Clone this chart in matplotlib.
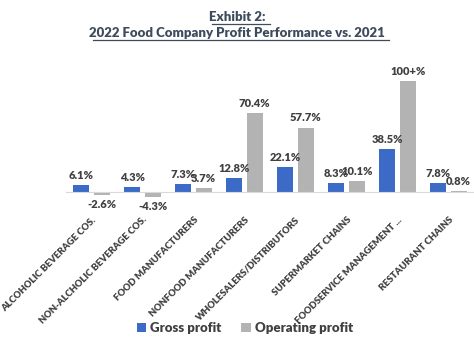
import matplotlib
matplotlib.use("Agg")
import matplotlib.pyplot as plt
import numpy as np

categories = ["ALCOHOLIC BEVERAGE COS.", "NON-ALCHOLIC BEVERAGE COS.", "FOOD MANUFACTURERS",
              "NONFOOD MANUFACTURERS", "WHOLESALERS/DISTRIBUTORS", "SUPERMARKET CHAINS",
              "FOODSERVICE MANAGEMENT ...", "RESTAURANT CHAINS"]
gross = [6.1, 4.3, 7.3, 12.8, 22.1, 8.3, 38.5, 7.8]
operating = [-2.6, -4.3, 3.7, 70.4, 57.7, 10.1, 99.0, 0.8]
gross_labels = ["6.1%", "4.3%", "7.3%", "12.8%", "22.1%", "8.3%", "38.5%", "7.8%"]
op_labels = ["-2.6%", "-4.3%", "3.7%", "70.4%", "57.7%", "10.1%", "100+%", "0.8%"]

FONT = "Lato"
W = "heavy"
TXT = "#404040"
BLUE = "#3C6BC7"
GRAY = "#B3B3B3"
TITLE = "#3E4B5E"

fig = plt.figure(figsize=(4.74, 3.39), dpi=100)
ax = fig.add_axes([66/474, 1 - 200/339, 408/474, 140/339])
x = np.arange(len(categories))
w = 0.31
off = 0.2
b1 = ax.bar(x - off, gross, w, color=BLUE, label="Gross profit")
b2 = ax.bar(x + off, operating, w, color=GRAY, label="Operating profit")
ax.bar_label(b1, labels=gross_labels, padding=3, fontsize=8, fontweight=W, color=TXT, family=FONT)
ax.bar_label(b2, labels=op_labels, padding=3, fontsize=8, fontweight=W, color=TXT, family=FONT)

ax.set_xlim(-0.5, len(categories) - 0.5)
ax.set_ylim(-7, 118)
ax.axhline(0, color="#D9D9D9", lw=0.8)
for s in ax.spines.values():
    s.set_visible(False)
ax.set_yticks([])
ax.set_xticks(x)
ax.set_xticklabels(categories, rotation=45, ha="right", rotation_mode="anchor",
                   fontsize=6.8, fontweight=W, color=TXT, family=FONT)
ax.tick_params(axis="x", length=0, pad=11)

fig.text(0.5, 1 - 17/339, "Exhibit 2:", ha="center", va="center", fontsize=9.5,
         fontweight=W, color=TITLE, family=FONT)
fig.text(0.5, 1 - 33/339, "2022 Food Company Profit Performance vs. 2021", ha="center",
         va="center", fontsize=9.5, fontweight=W, color=TITLE, family=FONT)
# underlines
fig.add_artist(plt.Line2D([212/474, 270/474], [1 - 23.5/339, 1 - 23.5/339], color=TITLE, lw=0.9))
fig.add_artist(plt.Line2D([93/474, 389/474], [1 - 40/339, 1 - 40/339], color=TITLE, lw=0.9))

leg = fig.legend(handles=[b1, b2], loc="center", bbox_to_anchor=(245/474, 1 - 328/339), ncol=2,
                 frameon=False, handlelength=0.7, handleheight=0.7, handletextpad=0.3,
                 columnspacing=1.5, prop={"family": FONT, "weight": W, "size": 9.5})
for t in leg.get_texts():
    t.set_color(TXT)

fig.savefig("out.png", dpi=100)
